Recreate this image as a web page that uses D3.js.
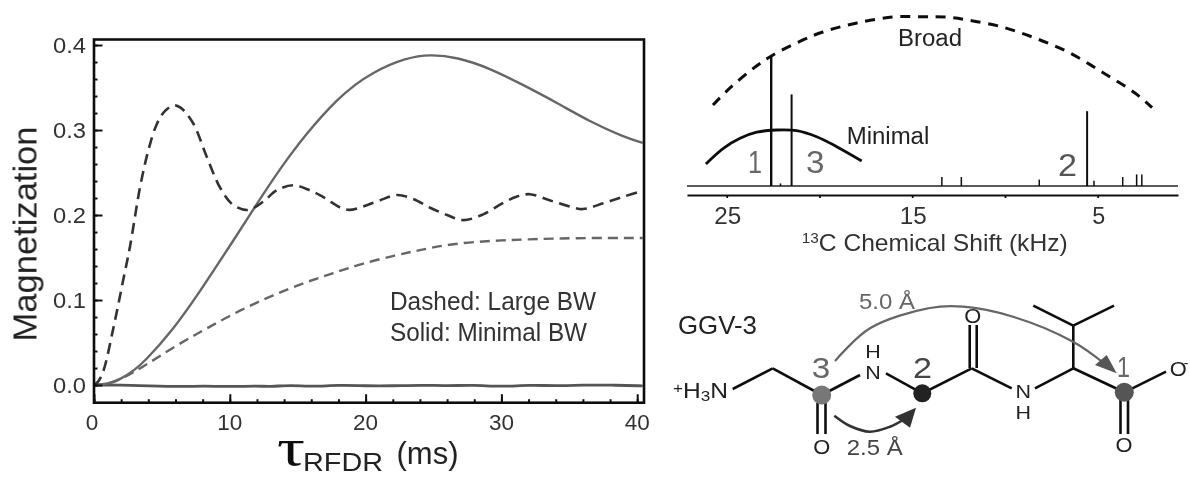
<!DOCTYPE html>
<html>
<head>
<meta charset="utf-8">
<script src="https://cdn.jsdelivr.net/npm/d3@7"></script>
<style>
  html, body { margin: 0; padding: 0; background: #fff; }
  svg { display: block; }
  text { font-family: "Liberation Sans", Arial, sans-serif; fill: #222; }
</style>
</head>
<body>
<script>
// Left panel: magnetization curves, time in ms
var largeTime = [0, 0.3, 0.68, 1.4, 2.15, 2.65, 3.4, 4, 4.6, 5.2, 5.9, 6.4, 7.3, 8.3, 9.3, 10.25, 11.35, 12.45, 13.45, 14.67, 15.9, 17, 18.1, 18.8, 19.8, 21, 22.3, 23.5, 24.75, 26, 27.2, 28.65, 30.1, 31.1, 32.1, 33.6, 35.05, 36, 37.5, 39, 40.4];
var largeA = [0, 0.004, 0.016, 0.065, 0.1235, 0.163, 0.2335, 0.276, 0.306, 0.322, 0.329, 0.326, 0.308, 0.2686, 0.2318, 0.2118, 0.206, 0.2156, 0.229, 0.235, 0.229, 0.22, 0.209, 0.206, 0.21, 0.217, 0.2235, 0.2188, 0.2086, 0.2, 0.194, 0.2008, 0.214, 0.2216, 0.2245, 0.217, 0.21, 0.207, 0.2138, 0.2216, 0.2285];

var slowTime = [0, 1, 2, 3, 3.63, 6.1, 8.3, 10.75, 13.2, 15.65, 17.6, 19.6, 22.3, 24, 26.2, 29.2, 31.9, 35.3, 40.4];
var largeB = [0, 0.001, 0.007, 0.016, 0.0216, 0.047, 0.0667, 0.088, 0.106, 0.1215, 0.1314, 0.1424, 0.153, 0.1588, 0.1659, 0.1698, 0.1714, 0.173, 0.173];

var minTime = [0, 1, 2, 3, 3.63, 5.83, 7.8, 9.77, 11.24, 14.2, 18.1, 20.6, 23, 24.75, 26.7, 29.2, 31.6, 34.1, 36.5, 39, 40.4];
var minimalBW = [0, 0.001, 0.007, 0.018, 0.026, 0.065, 0.11, 0.158, 0.194, 0.2686, 0.342, 0.369, 0.385, 0.389, 0.3858, 0.3725, 0.353, 0.332, 0.31, 0.292, 0.285];

var flatTime = [0, 2, 4, 6.5, 8, 10, 12, 13, 14.5, 16, 18, 20, 22, 24, 26, 28, 30, 32, 34, 36, 38, 40.4];
var flatLine = [0, 0, -0.001, -0.002, -0.001, -0.002, -0.001, -0.002, 0, -0.002, 0, -0.001, -0.001, 0, -0.001, 0, -0.002, 0, -0.001, 0, 0, -0.001];

var magTicks = [0, 0.1, 0.2, 0.3, 0.4];
var timeTicks = [0, 10, 20, 30, 40];

// Right panel: spectrum peaks and excitation profiles, shift in kHz
var peakShift = [22.6, 22.1, 21.5, 13.4, 12.35, 8.15, 5.57, 5.2, 3.65, 2.9, 2.62];
var peakHeight = [1.0, 0.02, 0.71, 0.07, 0.07, 0.05, 0.58, 0.04, 0.07, 0.09, 0.09];

var broadShift = [25.74, 24.82, 23.47, 22.5, 20.89, 19.81, 17.98, 16.03, 14.42, 13.23, 11.99, 10.16, 8.38, 6.6, 4.77, 2.99, 2.07];
var broadProfile = [0.628, 0.76, 0.922, 1.016, 1.132, 1.194, 1.264, 1.31, 1.312, 1.31, 1.287, 1.233, 1.147, 1.039, 0.884, 0.721, 0.607];

var minimalShift = [26.12, 25.18, 24.28, 23.38, 22.3, 21.23, 20.15, 19.07, 17.72];
var minimalProfile = [0.171, 0.292, 0.37, 0.417, 0.434, 0.429, 0.382, 0.305, 0.194];

var shiftTicks = [25, 20, 15, 10, 5];
var shiftLabels = [25, 15, 5];

var w = 1190;
var h = 477;

var svg = d3.select("body").append("svg")
    .attr("width", w)
    .attr("height", h)
    .attr("viewBox", [0, 0, w, h]);

// slight softening, the original is a scan
svg.append("filter").attr("id", "soft")
    .append("feGaussianBlur").attr("stdDeviation", 0.4);

var g = svg.append("g").attr("filter", "url(#soft)");

// text helper, fit is the measured width of the string
function label(x, y, str, size, fit, color, anchor) {
    var t = g.append("text")
        .attr("x", x)
        .attr("y", y)
        .attr("font-size", size)
        .attr("text-anchor", anchor || "start")
        .style("fill", color || "#222")
        .text(str);
    if (fit) t.attr("textLength", fit).attr("lengthAdjust", "spacingAndGlyphs");
    return t;
}

// ---------- left panel ----------
var x = d3.scaleLinear().domain([0, 40.5]).range([94, 644]);
var y = d3.scaleLinear().domain([-0.0208, 0.4065]).range([402.7, 39.5]);

function curve(xs, ys, kind) {
    return d3.line()
        .x(function(d) { return x(d); })
        .y(function(d, i) { return y(ys[i]); })
        .curve(kind)(xs);
}

g.append("path").attr("d", curve(flatTime, flatLine, d3.curveBasis))
    .attr("fill", "none").attr("stroke", "#555").attr("stroke-width", 2.8);
g.append("path").attr("d", curve(slowTime, largeB, d3.curveBasis))
    .attr("fill", "none").attr("stroke", "#666").attr("stroke-width", 2.4)
    .attr("stroke-dasharray", "10 6");
g.append("path").attr("d", curve(minTime, minimalBW, d3.curveBasis))
    .attr("fill", "none").attr("stroke", "#666").attr("stroke-width", 2.4);
g.append("path").attr("d", curve(largeTime, largeA, d3.curveCatmullRom.alpha(0.5)))
    .attr("fill", "none").attr("stroke", "#333").attr("stroke-width", 2.6)
    .attr("stroke-dasharray", "11 6.5");

// ticks point inward
function drawAxis(axis, dx, dy) {
    var a = g.append("g").attr("transform", "translate(" + dx + "," + dy + ")").call(axis);
    a.select(".domain").remove();
    a.selectAll("line").attr("stroke", "#111").attr("stroke-width", 2);
    a.selectAll("text").remove();
}
var minorMag = d3.range(0, 0.401, 0.02);
var minorTime = d3.range(0, 40.1, 2);
drawAxis(d3.axisLeft(y).tickValues(minorMag).tickSize(-3.5).tickSizeOuter(0), 94, 0);
drawAxis(d3.axisLeft(y).tickValues(magTicks).tickSize(-8.5).tickSizeOuter(0), 94, 0);
drawAxis(d3.axisBottom(x).tickValues(minorTime).tickSize(-3.5).tickSizeOuter(0), 0, 402.7);
drawAxis(d3.axisBottom(x).tickValues(timeTicks).tickSize(-8.5).tickSizeOuter(0), 0, 402.7);

g.append("rect")
    .attr("x", x(0)).attr("y", y(0.4065))
    .attr("width", x(40.5) - x(0)).attr("height", y(-0.0208) - y(0.4065))
    .attr("fill", "none").attr("stroke", "#111").attr("stroke-width", 2.6);

magTicks.forEach(function(d) {
    label(86, y(d) + 8, d.toFixed(1), 22.5, 33, "#333", "end");
});
timeTicks.forEach(function(d) {
    label(x(d) - (d === 0 ? 2 : 0), 430, d, 22.5, d === 0 ? 12.5 : 25, "#333", "middle");
});

label(0, 0, "Magnetization", 33, 215, "#222", "middle")
    .attr("transform", "translate(36.5,234) rotate(-90)")
    .attr("x", 0).attr("y", 0);

label(277, 465, "τ", 52, 28, "#111").style("font-family", "'Liberation Serif', serif");
label(303, 471, "RFDR", 26, 80, "#222");
label(396.5, 464, "(ms)", 31, 62, "#222");

label(390, 310, "Dashed: Large BW", 25, 206, "#333");
label(390, 340.7, "Solid: Minimal BW", 25, 197, "#333");

// ---------- spectrum ----------
var sx = d3.scaleLinear().domain([27.14, 0.67]).range([687, 1178]);
var sy = d3.scaleLinear().domain([0, 1]).range([186, 57]);

var specAxis = d3.axisBottom(sx)
    .tickValues(shiftTicks)
    .tickSize(3)
    .tickSizeOuter(0)
    .tickFormat("");
var sa = g.append("g").attr("transform", "translate(0,195)").call(specAxis);
sa.select(".domain").attr("stroke", "#111").attr("stroke-width", 2);
sa.selectAll("line").attr("stroke", "#111").attr("stroke-width", 1.8);

g.append("line")
    .attr("x1", sx(27.14)).attr("x2", sx(0.67))
    .attr("y1", sy(0)).attr("y2", sy(0))
    .attr("stroke", "#222").attr("stroke-width", 1.6);

g.selectAll(".peak")
    .data(peakShift)
    .enter()
    .append("line")
    .attr("class", "peak")
    .attr("x1", function(d) { return sx(d); })
    .attr("x2", function(d) { return sx(d); })
    .attr("y1", sy(0))
    .attr("y2", function(d, i) { return sy(peakHeight[i]); })
    .attr("stroke", "#111")
    .attr("stroke-width", function(d, i) { return peakHeight[i] > 0.9 ? 2.4 : (peakHeight[i] > 0.5 ? 2 : 1.5); });

function profile(xs, ys) {
    return d3.line()
        .x(function(d) { return sx(d); })
        .y(function(d, i) { return sy(ys[i]); })
        .curve(d3.curveCatmullRom.alpha(0.5))(xs);
}
g.append("path").attr("d", profile(broadShift, broadProfile))
    .attr("fill", "none").attr("stroke", "#111").attr("stroke-width", 3)
    .attr("stroke-dasharray", "10 7.7");
g.append("path").attr("d", profile(minimalShift, minimalProfile))
    .attr("fill", "none").attr("stroke", "#111").attr("stroke-width", 2.8);

shiftLabels.forEach(function(d) {
    label(sx(d) + 1, 224, d, 23, d === 5 ? 13 : 27, "#333", "middle");
});

label(898, 46, "Broad", 23.5, 64, "#222");
label(846.7, 144, "Minimal", 23.5, 82.6, "#222");
label(748, 173, "1", 31, 14, "#666");
label(806, 173, "3", 31, 18.5, "#666");
label(1058, 175.7, "2", 31, 19, "#555");

var axisTitle = label(801.7, 250.7, "", 24, 266, "#333");
axisTitle.append("tspan").attr("font-size", 15).attr("dy", -8).text("13");
axisTitle.append("tspan").attr("dy", 8).text("C Chemical Shift (kHz)");

// ---------- molecule sketch, not data: pixel layout of the structure ----------
var bonds = [
    [732.7, 389, 772.7, 368.3], [772.7, 368.3, 821.7, 395], [821.7, 395, 860, 375],
    [886, 373.3, 922.3, 393.3], [922.3, 393.3, 971.7, 368.3], [971.7, 368.3, 1011.7, 388.3],
    [1035, 388.3, 1073.3, 368.3], [1073.3, 368.3, 1124.3, 392.3], [1073.3, 368.3, 1073.3, 325.7],
    [1073.3, 325.7, 1033.3, 305.7], [1073.3, 325.7, 1114, 305.7], [1124.3, 392.3, 1166, 371.7],
    [969.7, 325, 969.7, 368], [976.7, 325, 976.7, 368],
    [1120.5, 398, 1120.5, 434], [1128, 398, 1128, 434],
    [817.5, 403, 817.5, 434], [825.5, 403, 825.5, 434]
];
g.selectAll(".bond")
    .data(bonds)
    .enter()
    .append("line")
    .attr("class", "bond")
    .attr("x1", function(d) { return d[0]; })
    .attr("y1", function(d) { return d[1]; })
    .attr("x2", function(d) { return d[2]; })
    .attr("y2", function(d) { return d[3]; })
    .attr("stroke", "#111")
    .attr("stroke-width", 2.6);

var arcLine = d3.line().curve(d3.curveCatmullRom.alpha(0.5));
g.append("path")
    .attr("d", arcLine([[835, 361], [870, 328.3], [930, 308], [963, 306.7], [1013, 316.7], [1073, 341.7], [1105, 364]]))
    .attr("fill", "none").attr("stroke", "#666").attr("stroke-width", 2.2);
g.append("path")
    .attr("d", "M1116.7,373.3L1095,365L1106.7,355Z").attr("fill", "#555");
g.append("path")
    .attr("d", arcLine([[834.3, 415.7], [850, 426], [870, 431.7], [890, 426.7], [903, 420]]))
    .attr("fill", "none").attr("stroke", "#333").attr("stroke-width", 2.6);
g.append("path")
    .attr("d", "M916,407.7L895,416.7L910,427.7Z").attr("fill", "#333");

g.append("circle").attr("cx", 821.7).attr("cy", 395).attr("r", 9.5).attr("fill", "#777");
g.append("circle").attr("cx", 922.3).attr("cy", 393.3).attr("r", 9).attr("fill", "#222");
g.append("circle").attr("cx", 1124.3).attr("cy", 392.3).attr("r", 9.5).attr("fill", "#555");

label(678, 334.3, "GGV-3", 25.5, 79, "#222");
var h3n = label(673, 398.3, "", 21.5, 55, "#222");
h3n.append("tspan").attr("font-size", 15).attr("dy", -5).text("+");
h3n.append("tspan").attr("dy", 5).text("H");
h3n.append("tspan").attr("font-size", 15).attr("dy", 3).text("3");
h3n.append("tspan").attr("dy", -3).text("N");

label(873, 379, "N", 18, 15.5, "#222", "middle");
label(873, 358, "H", 18, 15.5, "#222", "middle");
label(1023.3, 398, "N", 18, 15.5, "#222", "middle");
label(1023.3, 419, "H", 18, 15.5, "#222", "middle");
label(972.7, 322.5, "O", 20, 17, "#222", "middle");
label(821.7, 453.5, "O", 20, 17, "#222", "middle");
label(1124, 451.5, "O", 20, 17, "#222", "middle");
label(1178.3, 375.5, "O", 20, 17, "#222", "middle");
label(1186, 368, "-", 14, null, "#222", "middle");

label(811.7, 377.7, "3", 29, 18.5, "#666");
label(913, 378, "2", 29, 19, "#444");
label(1117, 376.7, "1", 29, 13, "#666");
label(859, 309, "5.0 Å", 21.5, 56, "#666");
label(846.7, 455, "2.5 Å", 21.5, 56, "#444");
</script>
</body>
</html>
